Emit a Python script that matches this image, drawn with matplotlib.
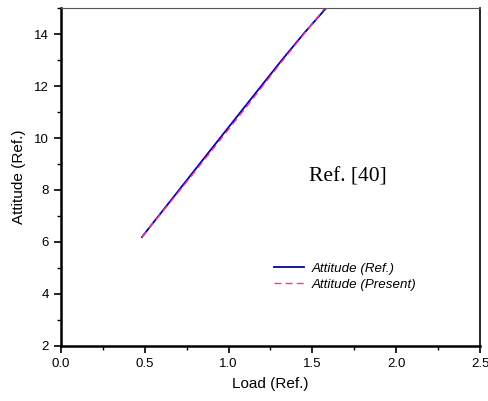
import matplotlib.pyplot as plt
from matplotlib.ticker import MultipleLocator

# data
load_ref = [0.483, 0.68, 0.889, 1.10, 1.313, 1.45, 1.60]
att_ref = [6.19, 7.80, 9.51, 11.23, 12.96, 14.03, 15.13]
load_present = [0.483, 0.68, 0.889, 1.10, 1.313, 1.45, 1.60]
att_present = [6.19, 7.75, 9.43, 11.14, 12.90, 14.00, 15.20]

plt.rcParams['font.family'] = ['Liberation Sans', 'DejaVu Sans']

fig = plt.figure(figsize=(4.89, 4.01), dpi=100)
ax = fig.add_axes([0.1247, 0.1372, 0.8569, 0.8428])

ax.plot(load_ref, att_ref, color='#0000aa', lw=1.3, label='Attitude (Ref.)')
ax.plot(load_present, att_present, color='#ff3399', lw=1.0, ls=(0, (5, 3)),
        label='Attitude (Present)')

ax.set_xlim(0, 2.5)
ax.set_ylim(2, 15)
ax.xaxis.set_major_locator(MultipleLocator(0.5))
ax.xaxis.set_minor_locator(MultipleLocator(0.25))
ax.yaxis.set_major_locator(MultipleLocator(2))
ax.yaxis.set_minor_locator(MultipleLocator(1))
ax.xaxis.set_major_formatter(plt.FuncFormatter(lambda v, p: f'{v:.1f}'))
ax.tick_params(which='major', direction='out', length=5, width=1.2, labelsize=9.5)
ax.tick_params(which='minor', direction='out', length=3, width=1.0)
ax.tick_params(top=False, right=False, which='both')

ax.spines['left'].set_linewidth(1.8)
ax.spines['bottom'].set_linewidth(1.8)
ax.spines['right'].set_linewidth(1.2)
ax.spines['top'].set_linewidth(0.8)
ax.spines['top'].set_color('#555555')

ax.set_xlabel('Load (Ref.)', fontsize=11, labelpad=5)
ax.set_ylabel('Attitude (Ref.)', fontsize=11, labelpad=6)

ax.text(1.71, 8.5, 'Ref. [40]', fontsize=15.5, family='Liberation Serif',
        ha='center', va='center')

leg = ax.legend(loc='center left', bbox_to_anchor=(0.48, 0.205), frameon=False,
                fontsize=9.6, handlelength=2.25, handletextpad=0.55, labelspacing=0.3)
for t in leg.get_texts():
    t.set_fontstyle('italic')

fig.savefig('out.png', dpi=100)
